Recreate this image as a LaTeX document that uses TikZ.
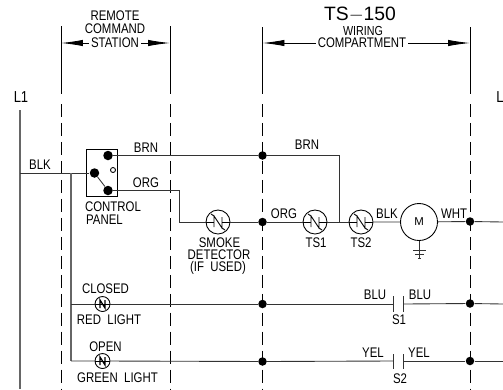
\documentclass[tikz,border=0pt]{standalone}
\usepackage{fontspec}
\setmainfont{Liberation Sans}
\usetikzlibrary{arrows.meta}
\tikzset{
 wire/.style={line width=0.5pt,black!80},
 rail/.style={line width=0.7pt,black!60},
 limit/.style={line width=0.5pt,black,dash pattern=on 7.4pt off 3.4pt},
 dim/.style={line width=0.5pt,black,-{Latex[length=12.5pt,width=3.6pt]}},
 lbl/.style={inner sep=0pt,yscale=1.22,transform shape,font=\fontsize{6.5}{7}\selectfont},
 lblbig/.style={inner sep=0pt,font=\fontsize{11}{12}\selectfont},
 jn/.style={circle,fill=black,inner sep=0pt,minimum size=0.17cm},
 swdot/.style={circle,fill=black,inner sep=0pt,minimum size=0.19cm},
 tstat/.style={circle,draw,line width=0.5pt,inner sep=0pt,minimum size=0.48cm,
  path picture={
   \draw[line width=0.5pt] (-4,5)--(-4,-6)--(4,6)--(4,-5);
   \draw[line width=0.5pt] (-12,0)--(-4,0) (4,0)--(12,0);
   \draw[line width=0.5pt] (-7,-8)--(-4,-6) (4,6)--(7,8);}},
 lamp/.style={circle,draw,line width=0.5pt,inner sep=0pt,minimum size=0.3cm,
  path picture={
   \draw[line width=0.5pt] (-8,0)--(8,0);
   \draw[line width=0.7pt] (-2.5,4)--(-2.5,-4)--(2.5,4)--(2.5,-4);}},
}
\begin{document}
\begin{tikzpicture}[x=0.02cm,y=-0.02cm]
 \useasboundingbox (0,0) rectangle (503,389);
 % top labels
 \node[lbl] (remote) at (115,16) {REMOTE};
 \node[lbl] (command) at (115,29) {COMMAND};
 \node[lbl,fill=white,inner xsep=1pt] (station) at (115,43) {STATION};
 \node[lblbig] (tsname) at (360,15) {TS$-$150};
 \node[lbl,font=\fontsize{6.1}{7}\selectfont] (wiring) at (363,30.5) {WIRING};
 \node[lbl,fill=white,inner xsep=1pt,inner ysep=0pt] (compartment) at (362,43) {COMPARTMENT};
 \node[lbl,font=\fontsize{7.4}{8}\selectfont] (lonelbl) at (21,97) {L1};
 \node[lbl,font=\fontsize{7.4}{8}\selectfont] (ltwolbl) at (500,97) {L};
 % limits
 \coordinate (rcslt) at (61,26);
 \coordinate (rcslm) at (61,43);
 \coordinate (rcslb) at (61,94);
 \coordinate (rcsld) at (61,104);
 \coordinate (rcsle) at (61,389);
 \coordinate (rcsrt) at (170,26);
 \coordinate (rcsrm) at (170,43);
 \coordinate (rcsrb) at (170,94);
 \coordinate (rcsrd) at (170,104);
 \coordinate (rcsre) at (170,389);
 \coordinate (tslt) at (262.5,27);
 \coordinate (tslm) at (262.5,43);
 \coordinate (tslb) at (262.5,94);
 \coordinate (tsld) at (262.5,104);
 \coordinate (tsle) at (262.5,389);
 \coordinate (tsrt) at (470,27);
 \coordinate (tsrm) at (470,43);
 \coordinate (tsrb) at (470,94);
 \coordinate (tsrd) at (470,104);
 \coordinate (tsre) at (470,389);
 \draw[wire,black] (rcslt)--(rcslb);
 \draw[wire,black] (rcsrt)--(rcsrb);
 \draw[wire,black] (tslt)--(tslb);
 \draw[wire,black] (tsrt)--(tsrb);
 \draw[limit] (rcsld)--(rcsle);
 \draw[limit] (rcsrd)--(rcsre);
 \draw[limit] (tsld)--(tsle);
 \draw[limit] (tsrd)--(tsre);
 \draw[dim] (station)--(rcslm);
 \draw[dim] (station)--(rcsrm);
 \draw[dim] (compartment)--(tslm);
 \draw[dim] (compartment)--(tsrm);
 % L1 and switch
 \coordinate (lonetop) at (20,110);
 \coordinate (lonebot) at (20,389);
 \coordinate (lonetap) at (20,173);
 \coordinate (feedtop) at (71,173);
 \coordinate (feedred) at (71,304);
 \coordinate (feedgrn) at (71,361);
 \draw[rail] (lonetop)--(lonebot);
 \node[draw,line width=0.5pt,inner sep=0pt,minimum width=0.62cm,minimum height=0.94cm] (panel) at (102,173) {};
 \node[swdot] (swbrn) at (108,155.5) {};
 \node[swdot] (swcom) at (94.5,173) {};
 \node[swdot] (sworg) at (108,190.5) {};
 \node[circle,draw,line width=0.5pt,inner sep=0pt,minimum size=0.1cm] (swopen) at (113,170) {};
 \draw[wire] (lonetap)--(swcom);
 \draw[wire] (swcom)--(sworg);
 \draw[rail] (feedtop)--(feedgrn);
 \node[lbl] (blklbl) at (40,165) {BLK};
 \node[lbl] (brnlbla) at (146,148) {BRN};
 \node[lbl] (orglbla) at (146,183) {ORG};
 \node[lbl] (paneltxta) at (113,207) {CONTROL};
 \node[lbl] (paneltxtb) at (104.5,220) {PANEL};
 % middle row
 \node[jn] (jbrn) at (262.5,155.5) {};
 \node[jn] (jorg) at (262.5,222) {};
 \node[jn] (jwht) at (470,221.5) {};
 \node[tstat] (smoke) at (218,222) {};
 \node[tstat] (tsone) at (315,222) {};
 \node[tstat] (tstwo) at (361,222) {};
 \node[circle,draw,line width=0.5pt,inner sep=0pt,minimum size=0.74cm,font=\fontsize{6.5}{7}\selectfont] (motor) at (419,222) {M};
 \coordinate (orgbend) at (179.5,190.5);
 \coordinate (orgdown) at (179.5,222);
 \coordinate (brnbend) at (339,155.5);
 \coordinate (brntap) at (339,222);
 \coordinate (whtend) at (503,222);
 \draw[wire] (swbrn)--(jbrn)--(brnbend)--(brntap);
 \draw[wire] (sworg)--(orgbend)--(orgdown)--(smoke);
 \draw[wire] (smoke)--(jorg)--(tsone)--(tstwo);
 \draw[wire] (tstwo)--(motor)--(jwht)--(whtend);
 \coordinate (gnda) at (419,258);
 \coordinate (gndbl) at (413,250);
 \coordinate (gndbr) at (426,250);
 \coordinate (gndcl) at (415,254.5);
 \coordinate (gndcr) at (424,254.5);
 \coordinate (gnddl) at (418,258);
 \coordinate (gnddr) at (421,258);
 \draw[wire] (motor)--(gnda);
 \draw[wire] (gndbl)--(gndbr);
 \draw[wire] (gndcl)--(gndcr);
 \draw[wire] (gnddl)--(gnddr);
 \node[lbl] (brnlblb) at (307,145) {BRN};
 \node[lbl] (orglblb) at (284,214) {ORG};
 \node[lbl] (tsonelbl) at (316,243) {TS1};
 \node[lbl] (tstwolbl) at (361,243) {TS2};
 \node[lbl] (blklblb) at (387,214) {BLK};
 \node[lbl] (whtlbl) at (454,214) {WHT};
 \node[lbl] (smokelbl) at (219.5,243) {SMOKE};
 \node[lbl] (detlbl) at (219,255) {DETECTOR};
 \node[lbl] (usedlbl) at (218,267.5) {(IF\ \ USED)};
 % lights and switches
 \node[lamp] (redlamp) at (102.5,304) {};
 \node[lamp] (grnlamp) at (102.5,361) {};
 \node[jn] (jreda) at (262.5,304) {};
 \node[jn] (jredb) at (470,303.5) {};
 \node[jn] (jgrna) at (262.5,361.5) {};
 \node[jn] (jgrnb) at (470,361) {};
 \coordinate (sonea) at (393.7,304);
 \coordinate (soneb) at (403.7,304);
 \coordinate (stwoa) at (393.7,361);
 \coordinate (stwob) at (403.7,361);
 \coordinate (redend) at (503,304);
 \coordinate (grnend) at (503,361);
 \draw[wire] (feedred)--(redlamp)--(jreda)--(sonea);
 \draw[wire] (soneb)--(jredb)--(redend);
 \draw[wire] (feedgrn)--(grnlamp)--(jgrna)--(stwoa);
 \draw[wire] (stwob)--(jgrnb)--(grnend);
 \draw[wire] (393.7,296)--(393.7,312);
 \draw[wire] (403.7,296)--(403.7,312);
 \draw[wire] (393.7,354)--(393.7,369);
 \draw[wire] (403.7,354)--(403.7,369);
 \node[lbl] (closedlbl) at (105.5,289) {CLOSED};
 \node[lbl] (redlbl) at (109,320) {RED\ \ LIGHT};
 \node[lbl] (openlbl) at (105.5,347) {OPEN};
 \node[lbl] (grnlbl) at (117.5,378) {GREEN\ \ LIGHT};
 \node[lbl] (blulbla) at (375,295) {BLU};
 \node[lbl] (blulblb) at (420,295) {BLU};
 \node[lbl] (sonelbl) at (399,320) {S1};
 \node[lbl] (yellbla) at (373,353) {YEL};
 \node[lbl] (yellblb) at (419,353) {YEL};
 \node[lbl] (stwolbl) at (400,379) {S2};
\end{tikzpicture}
\end{document}
